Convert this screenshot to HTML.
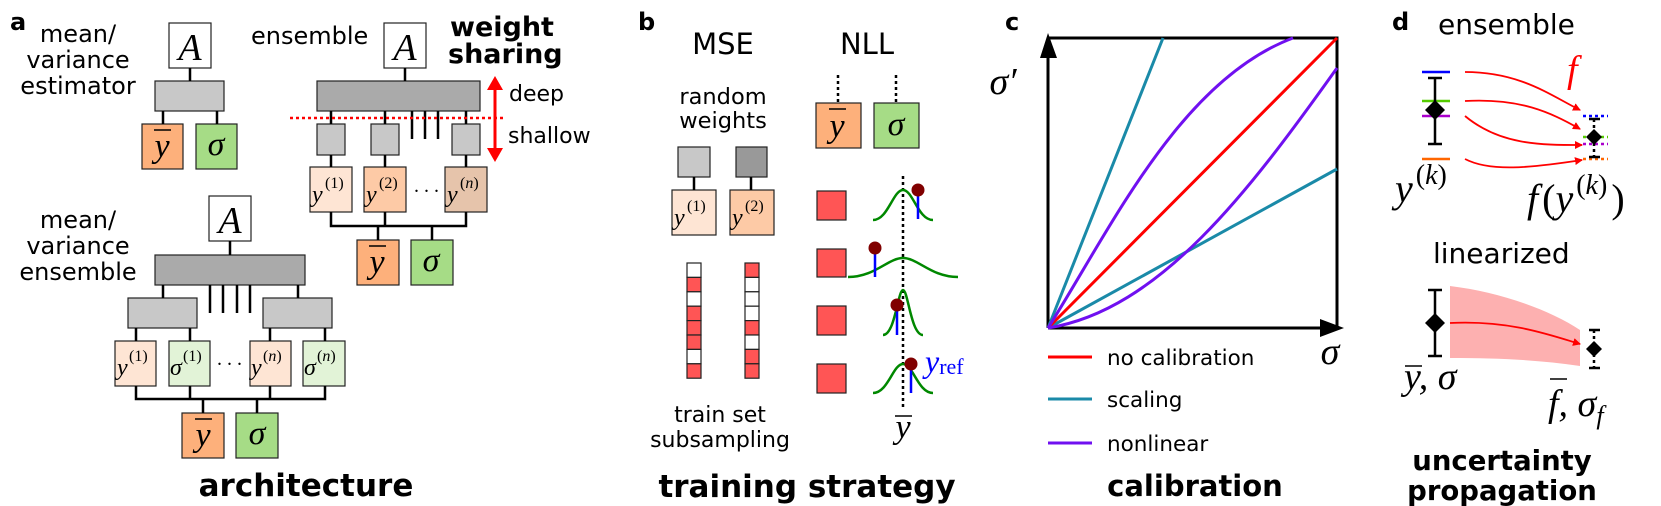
<!DOCTYPE html>
<html><head><meta charset="utf-8"><style>
html,body{margin:0;padding:0;background:#fff}
svg{display:block}
.s{font-family:"DejaVu Sans","Liberation Sans",sans-serif;fill:#000}
.b{font-family:"DejaVu Sans","Liberation Sans",sans-serif;font-weight:bold;fill:#000}
.m{font-family:"Liberation Serif",serif;font-style:italic;fill:#000}
.r{font-family:"Liberation Serif",serif;fill:#000}
</style></head><body>
<svg width="1661" height="506" viewBox="0 0 1661 506" xmlns="http://www.w3.org/2000/svg">
<defs>
<marker id="ar" markerWidth="8" markerHeight="8" refX="7" refY="4" orient="auto" markerUnits="userSpaceOnUse"><path d="M0,0 L8,4 L0,8 Z" fill="#f00"/></marker>
</defs>
<g stroke="#222" stroke-width="1.2">
<rect x="169" y="23" width="42" height="45" fill="#fff"/>
<rect x="155" y="81" width="69" height="30" fill="#c8c8c8"/>
<rect x="142" y="124" width="41" height="45" fill="#fdb07b"/>
<rect x="196" y="124" width="41" height="45" fill="#a6dc86"/>
<rect x="384" y="23" width="42" height="45" fill="#fff"/>
<rect x="317" y="81" width="163" height="30" fill="#aaa"/>
<rect x="317" y="124" width="28" height="31" fill="#c8c8c8"/>
<rect x="371" y="124" width="28" height="31" fill="#c8c8c8"/>
<rect x="452" y="124" width="28" height="31" fill="#c8c8c8"/>
<rect x="310" y="167" width="42" height="45" fill="#fee5d4"/>
<rect x="364" y="167" width="42" height="45" fill="#fdcaa6"/>
<rect x="445" y="167" width="42" height="45" fill="#e6c4ab"/>
<rect x="357" y="240" width="42" height="45" fill="#fdb07b"/>
<rect x="411" y="240" width="42" height="45" fill="#a6dc86"/>
<rect x="209" y="196" width="42" height="45" fill="#fff"/>
<rect x="155" y="255" width="150" height="30" fill="#aaa"/>
<rect x="128" y="298" width="69" height="30" fill="#c8c8c8"/>
<rect x="263" y="298" width="69" height="30" fill="#c8c8c8"/>
<rect x="115" y="341" width="41" height="45" fill="#fee5d4"/>
<rect x="169" y="341" width="41" height="45" fill="#e2f3d7"/>
<rect x="250" y="341" width="41" height="45" fill="#fee5d4"/>
<rect x="303" y="341" width="42" height="45" fill="#e2f3d7"/>
<rect x="182" y="413" width="42" height="45" fill="#fdb07b"/>
<rect x="236" y="413" width="42" height="45" fill="#a6dc86"/>
</g>
<g stroke="#000" stroke-width="2.5" fill="none">
<path d="M190,68V81 M163,111V124 M217,111V124"/>
<path d="M405,68V81 M331,111V124 M385,111V124 M466,111V124 M412,111V139 M425,111V139 M438,111V139"/>
<path d="M331,155V167 M385,155V167 M466,155V167 M331,212V226H466V212 M385,212V226 M378,226V240 M432,226V240"/>
<path d="M230,241V255 M163,285V298 M298,285V298 M210,285V313 M223,285V313 M237,285V313 M250,285V313"/>
<path d="M136,328V341 M190,328V341 M270,328V341 M325,328V341 M136,386V399H325V386 M190,386V399 M270,386V399 M203,399V413 M257,399V413"/>
</g>
<line x1="290" y1="118" x2="506" y2="118" stroke="#f00" stroke-width="2.5" stroke-dasharray="3,3"/>
<line x1="495" y1="88" x2="495" y2="150" stroke="#f00" stroke-width="3"/>
<path d="M487,90 L495,76 L503,90Z M487,148 L495,162 L503,148Z" fill="#f00"/>
<g class="m" font-size="38" text-anchor="middle">
<text x="190" y="60">A</text><text x="405" y="60">A</text><text x="230" y="233">A</text>
</g>
<g class="m" font-size="34" text-anchor="middle">
<text x="162" y="157">y</text><text x="216" y="155">σ</text>
<text x="377" y="273">y</text><text x="431" y="271">σ</text>
<text x="203" y="446">y</text><text x="257" y="444">σ</text>
</g>
<g stroke="#000" stroke-width="1.5"><path d="M154,130H171 M369,246H386 M195,419H212"/></g>
<g class="m" font-size="24">
<text x="312" y="202">y</text><text x="366" y="202">y</text><text x="447" y="202">y</text>
<text x="117" y="375">y</text><text x="170" y="375">σ</text><text x="251" y="375">y</text><text x="304" y="375">σ</text>
</g>
<g class="r" font-size="16">
<text x="325" y="188">(1)</text><text x="379" y="188">(2)</text><text x="460" y="188">(<tspan font-style="italic">n</tspan>)</text>
<text x="129" y="361">(1)</text><text x="183" y="361">(1)</text><text x="263" y="361">(<tspan font-style="italic">n</tspan>)</text><text x="317" y="361">(<tspan font-style="italic">n</tspan>)</text>
</g>
<g class="r" font-size="20"><text x="414" y="192">. . .</text><text x="217" y="365">. . .</text></g>
<text class="b" x="10" y="30" font-size="24">a</text>
<g class="s" font-size="24" text-anchor="middle">
<text x="78" y="42">mean/</text><text x="78" y="68">variance</text><text x="78" y="94">estimator</text>
<text x="78" y="228">mean/</text><text x="78" y="254">variance</text><text x="78" y="280">ensemble</text>
</g>
<text class="s" x="251" y="44" font-size="24">ensemble</text>
<text class="b" x="450" y="36" font-size="27">weight</text>
<text class="b" x="448" y="63" font-size="27">sharing</text>
<text class="s" x="509" y="101" font-size="22">deep</text>
<text class="s" x="508" y="143" font-size="22">shallow</text>
<text class="b" x="306" y="496" font-size="31" text-anchor="middle">architecture</text>

<text class="b" x="638" y="30" font-size="24">b</text>
<g class="s" text-anchor="middle">
<text x="723" y="54" font-size="29">MSE</text><text x="867" y="54" font-size="29">NLL</text>
<text x="723" y="104" font-size="22.5">random</text><text x="723" y="128" font-size="22.5">weights</text>
<text x="720" y="422" font-size="22">train set</text><text x="720" y="447" font-size="22">subsampling</text>
</g>
<g stroke="#222" stroke-width="1.2">
<rect x="678" y="147" width="32" height="30" fill="#c8c8c8"/>
<rect x="736" y="147" width="31" height="30" fill="#999"/>
<rect x="672" y="190" width="44" height="45" fill="#fee5d4"/>
<rect x="730" y="190" width="44" height="45" fill="#fdcaa6"/>
<rect x="816" y="103" width="45" height="45" fill="#fdb07b"/>
<rect x="874" y="103" width="45" height="45" fill="#a6dc86"/>
<rect x="817" y="191" width="29" height="29" fill="#f55"/>
<rect x="817" y="249" width="29" height="28" fill="#f55"/>
<rect x="817" y="306" width="29" height="29" fill="#f55"/>
<rect x="817" y="364" width="29" height="29" fill="#f55"/>
<rect x="687" y="263" width="14" height="14.4" fill="#fff"/>
<rect x="687" y="277.4" width="14" height="14.4" fill="#f55"/>
<rect x="687" y="291.8" width="14" height="14.4" fill="#fff"/>
<rect x="687" y="306.2" width="14" height="14.4" fill="#f55"/>
<rect x="687" y="320.6" width="14" height="14.4" fill="#f55"/>
<rect x="687" y="335" width="14" height="14.4" fill="#f55"/>
<rect x="687" y="349.4" width="14" height="14.4" fill="#fff"/>
<rect x="687" y="363.8" width="14" height="14.4" fill="#f55"/>
<rect x="745" y="263" width="14" height="14.4" fill="#f55"/>
<rect x="745" y="277.4" width="14" height="14.4" fill="#fff"/>
<rect x="745" y="291.8" width="14" height="14.4" fill="#fff"/>
<rect x="745" y="306.2" width="14" height="14.4" fill="#fff"/>
<rect x="745" y="320.6" width="14" height="14.4" fill="#f55"/>
<rect x="745" y="335" width="14" height="14.4" fill="#fff"/>
<rect x="745" y="349.4" width="14" height="14.4" fill="#f55"/>
<rect x="745" y="363.8" width="14" height="14.4" fill="#f55"/>
</g>
<path d="M694,177V190 M751,177V190" stroke="#000" stroke-width="2.5"/>
<path d="M838,75V103 M896,75V103 M903,176V408" stroke="#000" stroke-width="2.5" stroke-dasharray="3,3"/>
<g class="m" font-size="24"><text x="674" y="225">y</text><text x="732" y="225">y</text></g>
<g class="r" font-size="16"><text x="687" y="211">(1)</text><text x="745" y="211">(2)</text></g>
<g class="m" font-size="34" text-anchor="middle"><text x="837" y="137">y</text><text x="896" y="135">σ</text><text x="903" y="438">y</text></g>
<path d="M829,109H846 M895,416H912" stroke="#000" stroke-width="1.5"/>
<g fill="none" stroke="#080" stroke-width="2.5">
<path d="M873,220 C888,220 893,190 903,190 C913,190 918,220 933,220"/>
<path d="M848,277 C875,277 888,258 903,258 C918,258 931,277 958,277"/>
<path d="M883,335 C895,335 898,290 903,290 C908,290 911,335 923,335"/>
<path d="M873,393 C888,393 893,364 903,364 C913,364 918,393 933,393"/>
</g>
<g stroke="#00f" stroke-width="2.5"><path d="M918,190V219 M875,248V277 M897,305V335 M911,364V393"/></g>
<g fill="#800000"><circle cx="918" cy="190" r="6.5"/><circle cx="875" cy="248" r="6.5"/><circle cx="897" cy="305" r="6.5"/><circle cx="911" cy="364" r="6.5"/></g>
<text x="925" y="372" font-size="32" fill="#00f" font-family="Liberation Serif,serif"><tspan font-style="italic">y</tspan><tspan font-size="22" dy="2">ref</tspan></text>
<text class="b" x="807" y="497" font-size="31" text-anchor="middle">training strategy</text>

<text class="b" x="1005" y="30" font-size="24">c</text>
<path d="M1048,38H1337V328 M1048,328H1330 M1048,328V48" stroke="#000" stroke-width="3" fill="none"/>
<path d="M1040,58 L1048,33 L1057,58Z M1320,319 L1344,328 L1320,337Z" fill="#000"/>
<g fill="none" stroke-width="3">
<path d="M1048,328 L1163,38" stroke="#1a8aa8"/>
<path d="M1048,328 L1337,169" stroke="#1a8aa8"/>
<path d="M1048,328 L1337,38" stroke="#f00"/>
<path d="M1048,328 C1110,230 1180,80 1293,38" stroke="#7010f0"/>
<path d="M1048,328 C1160,310 1250,190 1337,68" stroke="#7010f0"/>
</g>
<text class="m" x="1003" y="94" font-size="38" text-anchor="middle">σ′</text>
<text class="m" x="1330" y="364" font-size="38" text-anchor="middle">σ</text>
<g stroke-width="3"><path d="M1048,357H1092" stroke="#f00"/><path d="M1048,399H1092" stroke="#1a8aa8"/><path d="M1048,443H1092" stroke="#7010f0"/></g>
<g class="s" font-size="21.5"><text x="1107" y="365">no calibration</text><text x="1107" y="407">scaling</text><text x="1107" y="451">nonlinear</text></g>
<text class="b" x="1195" y="496" font-size="29" text-anchor="middle">calibration</text>

<text class="b" x="1392" y="30" font-size="24">d</text>
<text class="s" x="1438" y="34" font-size="28">ensemble</text>
<text x="1567" y="82" font-size="38" fill="#f00" font-family="Liberation Serif,serif" font-style="italic">f</text>
<g stroke-width="2.5">
<path d="M1422,72H1450" stroke="#00f"/><path d="M1422,101H1450" stroke="#5c0"/><path d="M1422,116H1450" stroke="#a0c"/><path d="M1422,159H1450" stroke="#f60"/>
<path d="M1583,116H1608" stroke="#00f" stroke-dasharray="3,3"/><path d="M1583,137H1608" stroke="#5c0" stroke-dasharray="3,3"/><path d="M1583,144H1608" stroke="#a0c" stroke-dasharray="3,3"/><path d="M1583,159H1608" stroke="#f60" stroke-dasharray="3,3"/>
<path d="M1435,78V144 M1428,78H1442 M1428,144H1442 M1435,290V356 M1428,290H1442 M1428,356H1442" stroke="#000"/>
<path d="M1594,119V157 M1594,330V368" stroke="#000" stroke-dasharray="3,3"/>
<path d="M1589,119H1600 M1589,157H1600 M1589,330H1600 M1589,368H1600" stroke="#000"/>
</g>
<path d="M1450,286 C1500,292 1550,310 1580,330 L1580,366 C1540,360 1500,358 1450,358 Z" fill="#fdb0b0"/>
<g fill="none" stroke="#f00" stroke-width="1.8" marker-end="url(#ar)">
<path d="M1465,72 C1520,72 1550,95 1580,110"/>
<path d="M1465,101 C1520,98 1550,112 1580,129"/>
<path d="M1465,116 C1500,145 1540,145 1582,145"/>
<path d="M1465,159 C1490,172 1530,168 1582,160"/>
<path d="M1450,323 C1510,320 1550,335 1580,344"/>
</g>
<g fill="#000">
<path d="M1435,100 L1445,110 L1435,120 L1425,110Z M1435,313 L1445,323 L1435,333 L1425,323Z"/>
<path d="M1594,129 L1602,137 L1594,145 L1586,137Z M1594,341 L1602,349 L1594,357 L1586,349Z"/>
</g>
<text class="m" x="1395" y="202" font-size="40">y<tspan font-size="28" dy="-18" dx="3" style="font-style:normal">(</tspan><tspan font-size="28">k</tspan><tspan font-size="28" style="font-style:normal">)</tspan></text>
<text class="m" x="1527" y="212" font-size="40">f<tspan dx="4" style="font-style:normal">(</tspan>y<tspan font-size="28" dy="-18" dx="3" style="font-style:normal">(</tspan><tspan font-size="28">k</tspan><tspan font-size="28" style="font-style:normal">)</tspan><tspan dy="18" dx="4" style="font-style:normal">)</tspan></text>
<text class="s" x="1433" y="263" font-size="28">linearized</text>
<text class="m" x="1404" y="389" font-size="38">y, σ</text>
<path d="M1405,366H1422 M1550,379H1567" stroke="#000" stroke-width="1.5"/>
<text class="m" x="1548" y="416" font-size="38">f, σ<tspan font-size="26" dy="8">f</tspan></text>
<text class="b" x="1502" y="470" font-size="27.5" text-anchor="middle">uncertainty</text>
<text class="b" x="1502" y="500" font-size="27.5" text-anchor="middle">propagation</text>
</svg>
</body></html>
